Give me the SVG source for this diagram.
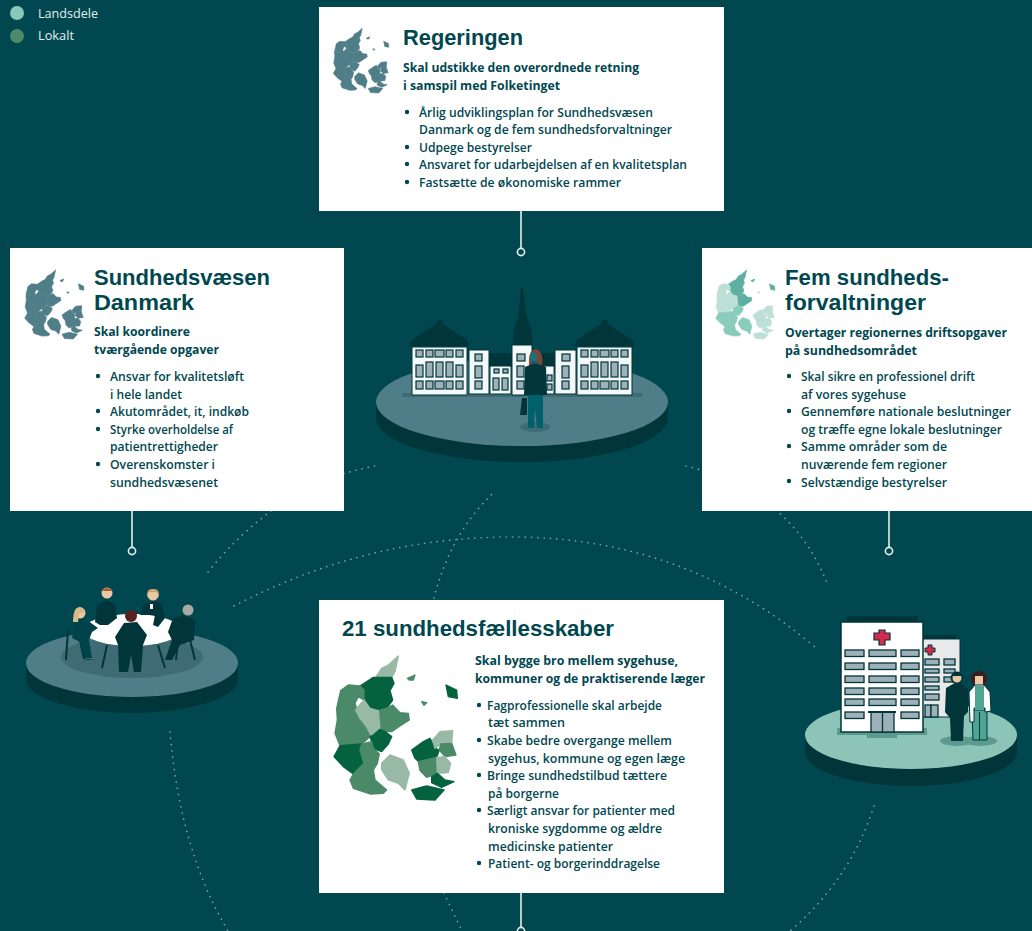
<svg xmlns="http://www.w3.org/2000/svg" width="1032" height="931" viewBox="0 0 1032 931">
<style>
text{font-family:"Open Sans","Noto Sans","Liberation Sans",sans-serif;fill:#004750}
text.t{font-family:"Liberation Sans",Arial,sans-serif;font-size:21.5px;font-weight:700}
.s{font-size:12.5px;font-weight:700}
.b{font-size:12.5px;font-weight:600}
.lg{font-size:12px;fill:#e4eeee;font-weight:500}
.card{fill:#fff}
.dot{fill:none;stroke:#7fa5aa;stroke-width:1.6;stroke-dasharray:.1 6.2;stroke-linecap:round}
.stem{stroke:#e4eeee;stroke-width:1.6;fill:none}
.pin{fill:#004750;stroke:#e4eeee;stroke-width:1.6}
.bul{fill:#004750}
.d{fill:var(--d,var(--g));stroke:var(--d,var(--g));stroke-width:4;stroke-linejoin:round}
.m{fill:var(--m,var(--g));stroke:var(--m,var(--g));stroke-width:4;stroke-linejoin:round}
.l{fill:var(--l,var(--g));stroke:var(--l,var(--g));stroke-width:4;stroke-linejoin:round}
.dk{fill:#00353a}.w{fill:#f3f8f8;stroke:#00353a;stroke-width:1}.win{fill:#9eb0b8;stroke:#00353a;stroke-width:1.2}
.gw{fill:#9eb0b8;stroke:#00353a;stroke-width:1.3}
.leg{stroke:#00353a;stroke-width:2;fill:none}
</style>
<defs>
<g id="gN">
<path class="l" d="M165 235L185 205 205 195 235 168 225 215 215 232Z"/>
<path class="d" d="M120 258L160 232 215 232 222 250 210 272 218 300 200 325 175 332 150 325 132 300 132 270Z"/>
<path class="m" d="M175 332L200 325 218 315 240 338 265 340 268 360 240 378 215 395 195 395 180 385Z"/>
<path class="m" d="M262 235L285 225 280 240 268 240Z"/>
</g>
<g id="gC">
<path class="m" d="M50 325L62 272 85 255 120 258 132 270 132 300 115 290 105 310 110 325 105 335 60 325Z"/>
<path class="l" d="M105 335L110 325 132 300 150 325 175 332 180 385 160 405 150 410 135 380 115 355Z"/>
<path class="m" d="M50 325L105 335 115 355 135 380 150 410 125 432 60 437 45 400 52 360Z"/>
</g>
<g id="gS">
<path class="d" d="M150 410L160 405 180 388 195 395 215 410 205 432 185 455 160 445 155 425Z"/>
<path class="d" d="M60 437L125 432 120 450 132 490 100 522 70 500 42 470Z"/>
<path class="m" d="M125 432L155 425 160 445 178 462 172 490 160 510 132 490 120 450Z"/>
<path class="m" d="M100 522L132 490 160 510 165 540 200 570 190 580 150 582 100 565 90 540Z"/>
<path class="l" d="M185 490L210 465 250 480 268 520 255 570 235 550 205 540 185 510Z"/>
</g>
<g id="gZ">
<path class="d" d="M275 450L310 425 330 415 345 445 358 450 350 472 300 488 285 475Z"/>
<path class="m" d="M295 485L350 472 352 520 320 532 300 512Z"/>
<path class="l" d="M338 420L360 395 398 392 395 430 362 432 345 445Z"/>
<path class="m" d="M362 432L395 430 408 465 375 470 358 450Z"/>
<path class="l" d="M350 472L375 470 392 490 385 518 352 520Z"/>
<path class="d" d="M335 530L352 520 375 540 402 545 365 562 335 548Z"/>
<path class="d" d="M275 570L320 558 372 570 345 600 290 597Z"/>
<path class="m" d="M305 305L320 308 312 316Z"/>
</g>
<path id="gB" class="d" d="M378 255L410 270 412 295 385 290Z"/>
<g id="map"><use href="#gN"/><use href="#gC"/><use href="#gS"/><use href="#gZ"/><use href="#gB"/></g>
</defs>
<rect width="1032" height="931" fill="#004750"/>

<g id="legend">
<circle cx="17" cy="13" r="7" fill="#8cc8ba"/><text class="lg" x="38" y="18" textLength="60" lengthAdjust="spacingAndGlyphs">Landsdele</text>
<circle cx="17" cy="36" r="7" fill="#4f8a68"/><text class="lg" x="38" y="40" textLength="36" lengthAdjust="spacingAndGlyphs">Lokalt</text>
</g>

<g id="connectors">
<path class="dot" d="M208 572Q258 510 324 480Q352 470 380 465"/>
<path class="dot" d="M234 606Q370 535 520 537Q690 540 816 648"/>
<path class="dot" d="M434 598Q450 535 492 494"/>
<path class="dot" d="M686 466Q790 490 828 585"/>
<path class="dot" d="M170 732Q180 850 228 931"/>
<path class="dot" d="M444 893L462 931"/>
<path class="dot" d="M874 806Q850 880 790 931"/>
<path class="stem" d="M521 211V248M132 511V548M889 511V548M521 893V927"/>
<circle class="pin" cx="521" cy="252" r="3.6"/>
<circle class="pin" cx="132" cy="551" r="3.6"/>
<circle class="pin" cx="889" cy="551" r="3.6"/>
<circle class="pin" cx="521" cy="931" r="3.6"/>
</g>

<g id="regeringen">
<rect class="card" x="319" y="7" width="405" height="204"/>
<g transform="translate(327 3) scale(.15)" style="--g:#4f7d88"><use href="#map"/></g>
<text class="t" x="403" y="45" textLength="120" lengthAdjust="spacingAndGlyphs">Regeringen</text>
<text class="s" x="403" y="72" textLength="236" lengthAdjust="spacingAndGlyphs">Skal udstikke den overordnede retning</text>
<text class="s" x="403" y="90" textLength="157" lengthAdjust="spacingAndGlyphs">i samspil med Folketinget</text>
<circle class="bul" cx="407" cy="112" r="2.2"/><circle class="bul" cx="407" cy="147" r="2.2"/><circle class="bul" cx="407" cy="164" r="2.2"/><circle class="bul" cx="407" cy="182" r="2.2"/>
<text class="b" x="419" y="117" textLength="234" lengthAdjust="spacingAndGlyphs">Årlig udviklingsplan for Sundhedsvæsen</text>
<text class="b" x="419" y="134" textLength="253" lengthAdjust="spacingAndGlyphs">Danmark og de fem sundhedsforvaltninger</text>
<text class="b" x="419" y="152" textLength="113" lengthAdjust="spacingAndGlyphs">Udpege bestyrelser</text>
<text class="b" x="419" y="169" textLength="268" lengthAdjust="spacingAndGlyphs">Ansvaret for udarbejdelsen af en kvalitetsplan</text>
<text class="b" x="419" y="187" textLength="202" lengthAdjust="spacingAndGlyphs">Fastsætte de økonomiske rammer</text>
</g>

<g id="sundhedsvaesen">
<rect class="card" x="10" y="248" width="334" height="263"/>
<g transform="translate(18 243) scale(.16)" style="--g:#4f7d88"><use href="#map"/></g>
<text class="t" x="94" y="285" textLength="176" lengthAdjust="spacingAndGlyphs">Sundhedsvæsen</text>
<text class="t" x="94" y="310" textLength="100" lengthAdjust="spacingAndGlyphs">Danmark</text>
<text class="s" x="94" y="336" textLength="96" lengthAdjust="spacingAndGlyphs">Skal koordinere</text>
<text class="s" x="94" y="354" textLength="125" lengthAdjust="spacingAndGlyphs">tværgående opgaver</text>
<circle class="bul" cx="98" cy="376" r="2.2"/><circle class="bul" cx="98" cy="411" r="2.2"/><circle class="bul" cx="98" cy="429" r="2.2"/><circle class="bul" cx="98" cy="464" r="2.2"/>
<text class="b" x="110" y="381" textLength="134" lengthAdjust="spacingAndGlyphs">Ansvar for kvalitetsløft</text>
<text class="b" x="110" y="399" textLength="72" lengthAdjust="spacingAndGlyphs">i hele landet</text>
<text class="b" x="110" y="416" textLength="139" lengthAdjust="spacingAndGlyphs">Akutområdet, it, indkøb</text>
<text class="b" x="110" y="434" textLength="123" lengthAdjust="spacingAndGlyphs">Styrke overholdelse af</text>
<text class="b" x="110" y="451" textLength="108" lengthAdjust="spacingAndGlyphs">patientrettigheder</text>
<text class="b" x="110" y="469" textLength="105" lengthAdjust="spacingAndGlyphs">Overenskomster i</text>
<text class="b" x="110" y="487" textLength="108" lengthAdjust="spacingAndGlyphs">sundhedsvæsenet</text>
</g>

<g id="fem-sundhedsforvaltninger">
<rect class="card" x="702" y="248" width="330" height="263"/>
<g transform="translate(709 243) scale(.16)">
<use href="#gN" style="--g:#5fb0a0"/><use href="#gC" style="--g:#bcdfd6"/><use href="#gS" style="--g:#8accbb"/><use href="#gZ" style="--g:#bcdfd6"/><use href="#gB" style="--g:#5fb0a0"/>
</g>
<text class="t" x="785" y="285" textLength="164" lengthAdjust="spacingAndGlyphs">Fem sundheds-</text>
<text class="t" x="785" y="310" textLength="141" lengthAdjust="spacingAndGlyphs">forvaltninger</text>
<text class="s" x="785" y="337" textLength="222" lengthAdjust="spacingAndGlyphs">Overtager regionernes driftsopgaver</text>
<text class="s" x="785" y="355" textLength="132" lengthAdjust="spacingAndGlyphs">på sundhedsområdet</text>
<circle class="bul" cx="789" cy="376" r="2.2"/><circle class="bul" cx="789" cy="411" r="2.2"/><circle class="bul" cx="789" cy="446" r="2.2"/><circle class="bul" cx="789" cy="481" r="2.2"/>
<text class="b" x="801" y="381" textLength="174" lengthAdjust="spacingAndGlyphs">Skal sikre en professionel drift</text>
<text class="b" x="801" y="399" textLength="105" lengthAdjust="spacingAndGlyphs">af vores sygehuse</text>
<text class="b" x="801" y="416" textLength="210" lengthAdjust="spacingAndGlyphs">Gennemføre nationale beslutninger</text>
<text class="b" x="801" y="434" textLength="201" lengthAdjust="spacingAndGlyphs">og træffe egne lokale beslutninger</text>
<text class="b" x="801" y="451" textLength="146" lengthAdjust="spacingAndGlyphs">Samme områder som de</text>
<text class="b" x="801" y="469" textLength="146" lengthAdjust="spacingAndGlyphs">nuværende fem regioner</text>
<text class="b" x="801" y="487" textLength="146" lengthAdjust="spacingAndGlyphs">Selvstændige bestyrelser</text>
</g>

<g id="sundhedsfaellesskaber">
<rect class="card" x="319" y="600" width="405" height="293"/>
<g transform="translate(320 600) scale(.3333)" style="--d:#05623f;--m:#4a8a68;--l:#98b9a5"><use href="#map"/></g>
<text class="t" x="342" y="636" textLength="272" lengthAdjust="spacingAndGlyphs">21 sundhedsfællesskaber</text>
<text class="s" x="475" y="665" textLength="203" lengthAdjust="spacingAndGlyphs">Skal bygge bro mellem sygehuse,</text>
<text class="s" x="475" y="683" textLength="230" lengthAdjust="spacingAndGlyphs">kommuner og de praktiserende læger</text>
<circle class="bul" cx="479" cy="705" r="2.2"/><circle class="bul" cx="479" cy="740" r="2.2"/><circle class="bul" cx="479" cy="775" r="2.2"/><circle class="bul" cx="479" cy="810" r="2.2"/><circle class="bul" cx="479" cy="863" r="2.2"/>
<text class="b" x="487" y="710" textLength="175" lengthAdjust="spacingAndGlyphs">Fagprofessionelle skal arbejde</text>
<text class="b" x="488" y="727" textLength="77" lengthAdjust="spacingAndGlyphs">tæt sammen</text>
<text class="b" x="487" y="745" textLength="185" lengthAdjust="spacingAndGlyphs">Skabe bedre overgange mellem</text>
<text class="b" x="488" y="763" textLength="197" lengthAdjust="spacingAndGlyphs">sygehus, kommune og egen læge</text>
<text class="b" x="487" y="780" textLength="180" lengthAdjust="spacingAndGlyphs">Bringe sundhedstilbud tættere</text>
<text class="b" x="488" y="798" textLength="71" lengthAdjust="spacingAndGlyphs">på borgerne</text>
<text class="b" x="487" y="815" textLength="188" lengthAdjust="spacingAndGlyphs">Særligt ansvar for patienter med</text>
<text class="b" x="488" y="833" textLength="174" lengthAdjust="spacingAndGlyphs">kroniske sygdomme og ældre</text>
<text class="b" x="488" y="851" textLength="125" lengthAdjust="spacingAndGlyphs">medicinske patienter</text>
<text class="b" x="488" y="868" textLength="172" lengthAdjust="spacingAndGlyphs">Patient- og borgerinddragelse</text>
</g>

<g id="platform-regeringen">
<ellipse cx="522" cy="418" rx="146" ry="44" fill="#00353a"/>
<rect x="376" y="402" width="292" height="16" fill="#00353a"/>
<ellipse cx="522" cy="402" rx="146" ry="44" fill="#4f7d88"/>
<rect x="402" y="393" width="240" height="4" fill="#3f6b75"/>
<path class="dk" d="M513 345L514 328 518 318 520 300 521 287H523L524 300 527 318 531 328 533 345Z"/>
<path class="dk" d="M489 353H555V367H489Z"/>
<path class="dk" d="M409 346L412 340 430 328 436 324 437 320H442L443 324 449 328 467 340 470 346Z"/>
<path class="dk" d="M574 346L577 340 595 328 601 324 602 320H607L608 324 614 328 632 340 635 346Z"/>
<path class="w" d="M412 347H467V395H412ZM469 350H489V394H469ZM512 345H532V395H512ZM555 350H576V394H555ZM577 347H632V395H577Z"/>
<path class="w" d="M490 366H511V394H490ZM532 366H554V394H532Z"/>
<g class="win">
<rect x="416" y="350" width="7" height="7"/><rect x="426" y="350" width="7" height="7"/><rect x="435" y="350" width="9" height="7"/><rect x="446" y="350" width="7" height="7"/><rect x="456" y="350" width="7" height="7"/>
<rect x="416" y="365" width="7" height="12"/><rect x="426" y="362" width="7" height="15"/><rect x="436" y="362" width="7" height="15"/><rect x="446" y="362" width="7" height="15"/><rect x="456" y="365" width="7" height="12"/>
<rect x="416" y="381" width="7" height="8"/><rect x="426" y="381" width="7" height="8"/><rect x="435" y="381" width="9" height="8"/><rect x="446" y="381" width="7" height="8"/><rect x="456" y="381" width="7" height="8"/>
<rect x="581" y="350" width="7" height="7"/><rect x="591" y="350" width="7" height="7"/><rect x="600" y="350" width="9" height="7"/><rect x="611" y="350" width="7" height="7"/><rect x="621" y="350" width="7" height="7"/>
<rect x="581" y="365" width="7" height="12"/><rect x="591" y="362" width="7" height="15"/><rect x="601" y="362" width="7" height="15"/><rect x="611" y="362" width="7" height="15"/><rect x="621" y="365" width="7" height="12"/>
<rect x="581" y="381" width="7" height="8"/><rect x="591" y="381" width="7" height="8"/><rect x="600" y="381" width="9" height="8"/><rect x="611" y="381" width="7" height="8"/><rect x="621" y="381" width="7" height="8"/>
<rect x="475" y="354" width="7" height="7"/><rect x="475" y="366" width="7" height="12"/><rect x="475" y="381" width="7" height="8"/>
<rect x="517" y="354" width="8" height="7"/><rect x="517" y="366" width="7" height="11"/><rect x="517" y="381" width="7" height="8"/>
<rect x="562" y="354" width="8" height="7"/><rect x="562" y="366" width="7" height="12"/><rect x="562" y="381" width="7" height="8"/>
<rect x="494" y="369" width="5" height="4"/><rect x="503" y="369" width="5" height="4"/><rect x="493" y="378" width="6" height="12"/><rect x="502" y="378" width="6" height="12"/>
<rect x="547" y="375" width="5" height="6"/><rect x="547" y="384" width="5" height="6"/>
</g>
<ellipse cx="535" cy="427" rx="15" ry="5" fill="#3f6b75"/>
<path d="M529 365Q528 350 536 349Q544 351 542 367Z" fill="#7b4433"/>
<rect x="530" y="353" width="7" height="8" fill="#1f6f78"/>
<rect x="532" y="361" width="5" height="6" fill="#00606b"/>
<path d="M525 367L532 364H538L546 367 547 395H524Z" fill="#00353a"/>
<path d="M528 395H543L543 428H537L535 408 534 428H528Z" fill="#00606b"/>
<path class="dk" d="M522 398H527V415H520Z"/>
</g>

<g id="platform-sundhedsvaesen">
<ellipse cx="132" cy="679" rx="106" ry="34" fill="#00353a"/>
<rect x="26" y="663" width="212" height="16" fill="#00353a"/>
<ellipse cx="132" cy="663" rx="106" ry="34" fill="#4f7d88"/>
<ellipse cx="132" cy="657" rx="71" ry="21" fill="#3f6b75"/>
<path class="leg" d="M107 645L102 668M158 645L165 668M68 630L66 660M80 640L84 659M190 640L195 660M178 640L176 660"/>
<ellipse cx="132" cy="630" rx="49" ry="16" fill="#fff"/>
<path class="dk" d="M95 622L97 605 107 600 115 605 117 618 108 625 100 625Z"/>
<path class="dk" d="M140 615L144 604 153 601 162 604 165 618 158 627 153 625 155 615Z"/>
<path d="M75 620L84 618 98 628 92 632 89 640 92 658H84L80 642 72 638Z" fill="#00434a"/>
<path class="dk" d="M86 659L96 660H84ZM173 618L183 615 195 620 194 640 180 645 172 660H165L172 640 168 632Z"/>
<circle cx="107" cy="593" r="5.500" fill="#e9c9a5"/><path d="M101 591Q107 585 113 591Z" fill="#a95b34"/>
<circle cx="153" cy="595" r="5.500" fill="#e9c9a5"/><path d="M147 598Q146 588 153 589 160 588 159 598L157 592H149Z" fill="#c9a66f"/>
<circle cx="80" cy="613" r="5.500" fill="#e9c9a5"/><path d="M73 622Q73 607 80 607 86 608 84 613L79 613 78 622Z" fill="#d9b88a"/>
<circle cx="188" cy="610" r="5.500" fill="#a9a9a6"/>
<rect x="150" y="604" width="3" height="5" fill="#fff"/>
<path class="dk" d="M124 623L137 622 147 635 143 645 141 672H134L131 655 128 672H119L118 645 115 637Z"/>
<circle cx="131" cy="616" r="6" fill="#5a1f1f"/>
</g>

<g id="platform-sundhedsforvaltninger">
<ellipse cx="911" cy="752" rx="106" ry="34" fill="#00353a"/>
<rect x="805" y="735" width="212" height="17" fill="#00353a"/>
<ellipse cx="911" cy="735" rx="106" ry="34" fill="#8cc5b8"/>
<rect x="837" y="728" width="90" height="7" fill="#5c9a8f"/>
<rect x="867" y="732" width="30" height="6" fill="#5c9a8f"/>
<rect x="847" y="616" width="71" height="7" class="dk"/>
<rect x="922" y="639" width="38" height="78" fill="#e8e9e9" stroke="#00353a"/>
<rect x="924" y="635" width="32" height="4" class="dk"/>
<rect x="841" y="622" width="82" height="110" fill="#fff" stroke="#00353a" stroke-width="1.500"/>
<path d="M879 630H885V633H890V640H885V645H879V640H874V633H879Z" fill="#d42a4c" stroke="#00353a" stroke-width="1.200"/>
<path d="M928 645H932V648H935V652H932V655H928V652H925V648H928Z" fill="#d42a4c" stroke="#00353a"/>
<g class="gw">
<rect x="845" y="650" width="19" height="6.500"/><rect x="869" y="650" width="27" height="6.500"/><rect x="901" y="650" width="18" height="6.500"/>
<rect x="845" y="663" width="19" height="6.500"/><rect x="869" y="663" width="27" height="6.500"/><rect x="901" y="663" width="18" height="6.500"/>
<rect x="845" y="676" width="19" height="6.500"/><rect x="869" y="676" width="27" height="6.500"/><rect x="901" y="676" width="18" height="6.500"/>
<rect x="845" y="688" width="19" height="6.500"/><rect x="869" y="688" width="27" height="6.500"/><rect x="901" y="688" width="18" height="6.500"/>
<rect x="845" y="699" width="19" height="6.500"/><rect x="869" y="699" width="27" height="6.500"/><rect x="901" y="699" width="18" height="6.500"/>
<rect x="845" y="712" width="19" height="6.500"/><rect x="901" y="712" width="18" height="6.500"/>
<rect x="871" y="712" width="23" height="20"/><path d="M882.500 712V732"/>
<rect x="925" y="659" width="14" height="6"/><rect x="944" y="659" width="11" height="6"/>
<rect x="925" y="669" width="14" height="4"/><rect x="944" y="669" width="11" height="4"/>
<rect x="925" y="677" width="14" height="5"/><rect x="944" y="677" width="11" height="5"/>
<rect x="925" y="686" width="14" height="4"/>
<rect x="925" y="694" width="14" height="6"/>
<rect x="925" y="705" width="6" height="12"/><rect x="931" y="705" width="7" height="12"/>
</g>
<path class="dk" d="M868 711H896V713H868Z"/>
<ellipse cx="957" cy="741" rx="17" ry="5" fill="#5c9a8f"/><ellipse cx="980" cy="741" rx="17" ry="5" fill="#5c9a8f"/>
<path class="dk" d="M946 688L953 684H962L968 689 968 712 964 716 963 741H951L950 718 945 712Z"/>
<circle cx="957" cy="678" r="5.500" fill="#e9c9a5" stroke="#00353a" stroke-width="2"/>
<path class="dk" d="M951 676Q957 669 963 676Z"/>
<circle cx="979" cy="679" r="8" fill="#3f1d1d"/>
<rect x="975" y="676" width="8" height="9" fill="#e9c9a5"/>
<path d="M972 710H987V740H973Z" fill="#4fa593" stroke="#00353a" stroke-width="1"/>
<path d="M969 692L975 685H984L990 692 991 711 985 712 985 708H974V722H970Z" fill="#fff" stroke="#00353a" stroke-width="1"/>
<rect x="975" y="686" width="9" height="24" fill="#4fa593"/>
<path d="M979.500 712V740" stroke="#00353a"/>
</g>
</svg>
